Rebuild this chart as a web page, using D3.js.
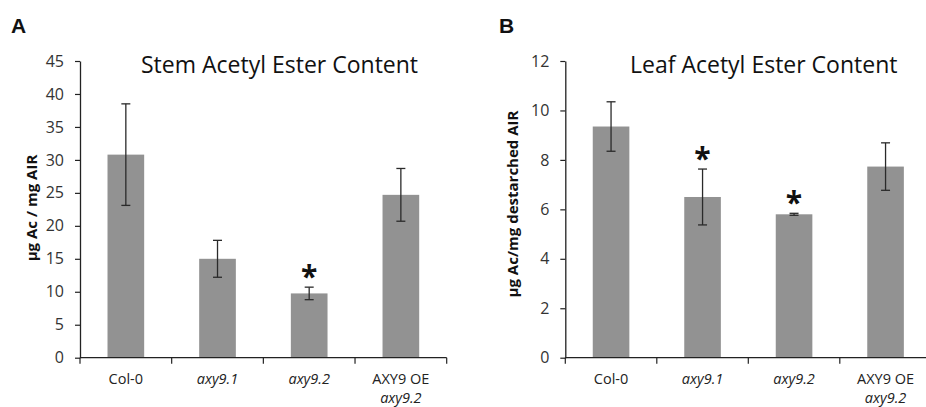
<!DOCTYPE html>
<html>
<head>
<meta charset="utf-8">
<script src="https://cdn.jsdelivr.net/npm/d3@7"></script>
<style>
  body { margin: 0; background: #fff; }
  text { font-family: "Open Sans", sans-serif; }
</style>
</head>
<body>
<div id="chart"></div>
<script>
const categories = ["Col-0", "axy9.1", "axy9.2", "AXY9 OE"];
const stemValues = [30.8, 15.0, 9.75, 24.7];
const stemErrors = [7.7, 2.8, 0.95, 4.0];
const stemStars = [false, false, true, false];
const leafValues = [9.35, 6.5, 5.8, 7.73];
const leafErrors = [1.0, 1.13, 0.04, 0.96];
const leafStars = [false, true, true, false];
const stemTicks = [0, 5, 10, 15, 20, 25, 30, 35, 40, 45];
const leafTicks = [0, 2, 4, 6, 8, 10, 12];

const width = 926, height = 407;
const svg = d3.select("#chart").append("svg")
    .attr("width", width)
    .attr("height", height);

function drawPanel(opts) {
    const { letter, letterX, title, titleX, yLabel, yLabelX, axisX, axisEnd, yMax, ticks, values, errors, stars } = opts;
    const top = 61, bottom = 357.7;
    const g = svg.append("g");

    const x = d3.scaleBand()
        .domain(categories)
        .range([axisX, axisEnd])
        .paddingInner(0.6)
        .paddingOuter(0.3);
    const y = d3.scaleLinear().domain([0, yMax]).range([bottom, top]);

    // bars
    g.selectAll("rect.bar")
        .data(values)
        .join("rect")
        .attr("class", "bar")
        .attr("x", (d, i) => x(categories[i]))
        .attr("width", x.bandwidth())
        .attr("y", d => y(d))
        .attr("height", d => bottom - y(d))
        .attr("fill", "#929292");

    // error bars
    const cx = i => x(categories[i]) + x.bandwidth() / 2;
    const err = g.append("g").attr("stroke", "#2a2a2a").attr("stroke-width", 1.3);
    values.forEach((v, i) => {
        const e = errors[i];
        err.append("line").attr("x1", cx(i)).attr("x2", cx(i)).attr("y1", y(v + e)).attr("y2", y(v - e));
        err.append("line").attr("x1", cx(i) - 4.5).attr("x2", cx(i) + 4.5).attr("y1", y(v + e)).attr("y2", y(v + e));
        err.append("line").attr("x1", cx(i) - 4.5).attr("x2", cx(i) + 4.5).attr("y1", y(v - e)).attr("y2", y(v - e));
        if (stars[i]) {
            g.append("text")
                .attr("x", cx(i))
                .attr("y", y(v + e) - 6)
                .attr("dy", "0.95em")
                .attr("text-anchor", "middle")
                .attr("font-size", 30)
                .attr("font-weight", "bold")
                .attr("fill", "#111")
                .attr("transform", `translate(0,-23)`)
                .text("*");
        }
    });

    // y axis
    const yAxis = g.append("g")
        .attr("transform", `translate(${axisX},0)`)
        .call(d3.axisLeft(y).tickValues(ticks).tickSize(5).tickSizeOuter(0).tickPadding(11));
    yAxis.select(".domain").attr("stroke", "#222").attr("stroke-width", 1.3);
    yAxis.selectAll(".tick line").attr("stroke", "#222").attr("stroke-width", 1.2);
    yAxis.selectAll(".tick text").attr("font-size", 16).attr("fill", "#333")
        .style("font-family", "'Open Sans', sans-serif");

    // x axis
    const step = x.step();
    g.append("line")
        .attr("x1", axisX).attr("x2", axisEnd)
        .attr("y1", bottom).attr("y2", bottom)
        .attr("stroke", "#222").attr("stroke-width", 1.3);
    d3.range(categories.length + 1).forEach(i => {
        const tx = axisX + i * step;
        g.append("line")
            .attr("x1", tx).attr("x2", tx)
            .attr("y1", bottom).attr("y2", bottom + 6)
            .attr("stroke", "#222").attr("stroke-width", 1.2);
    });
    categories.forEach((c, i) => {
        const t = g.append("text")
            .attr("x", cx(i))
            .attr("y", 384)
            .attr("text-anchor", "middle")
            .attr("font-size", 14.5)
            .attr("fill", "#222");
        if (c.startsWith("axy")) {
            t.attr("font-style", "italic").text(c);
        } else if (c === "AXY9 OE") {
            t.text(c);
            g.append("text")
                .attr("x", cx(i))
                .attr("y", 403)
                .attr("text-anchor", "middle")
                .attr("font-size", 14.5)
                .attr("font-style", "italic")
                .attr("fill", "#222")
                .text("axy9.2");
        } else {
            t.text(c);
        }
    });

    // title
    g.append("text")
        .attr("x", titleX)
        .attr("y", 73)
        .attr("font-size", 23)
        .attr("fill", "#111")
        .text(title);

    // y label
    g.append("text")
        .attr("transform", `translate(${yLabelX},${opts.yLabelY}) rotate(-90)`)
        .attr("text-anchor", "middle")
        .attr("font-size", 15)
        .attr("font-weight", "bold")
        .attr("fill", "#111")
        .text(yLabel);

    // panel letter
    g.append("text")
        .attr("x", letterX)
        .attr("y", 33)
        .attr("font-size", 21)
        .attr("font-weight", "bold")
        .style("font-family", "'Liberation Sans', Arial, sans-serif")
        .attr("fill", "#111")
        .text(letter);
}

drawPanel({
    letter: "A", letterX: 11,
    title: "Stem Acetyl Ester Content", titleX: 141,
    yLabel: "\u03bcg Ac / mg AIR", yLabelX: 37, yLabelY: 208,
    axisX: 80, axisEnd: 446.7, yMax: 45, ticks: stemTicks,
    values: stemValues, errors: stemErrors, stars: stemStars
});

drawPanel({
    letter: "B", letterX: 499,
    title: "Leaf Acetyl Ester Content", titleX: 630,
    yLabel: "\u03bcg Ac/mg destarched AIR", yLabelX: 518, yLabelY: 204,
    axisX: 565.3, axisEnd: 931.3, yMax: 12, ticks: leafTicks,
    values: leafValues, errors: leafErrors, stars: leafStars
});
</script>
</body>
</html>
